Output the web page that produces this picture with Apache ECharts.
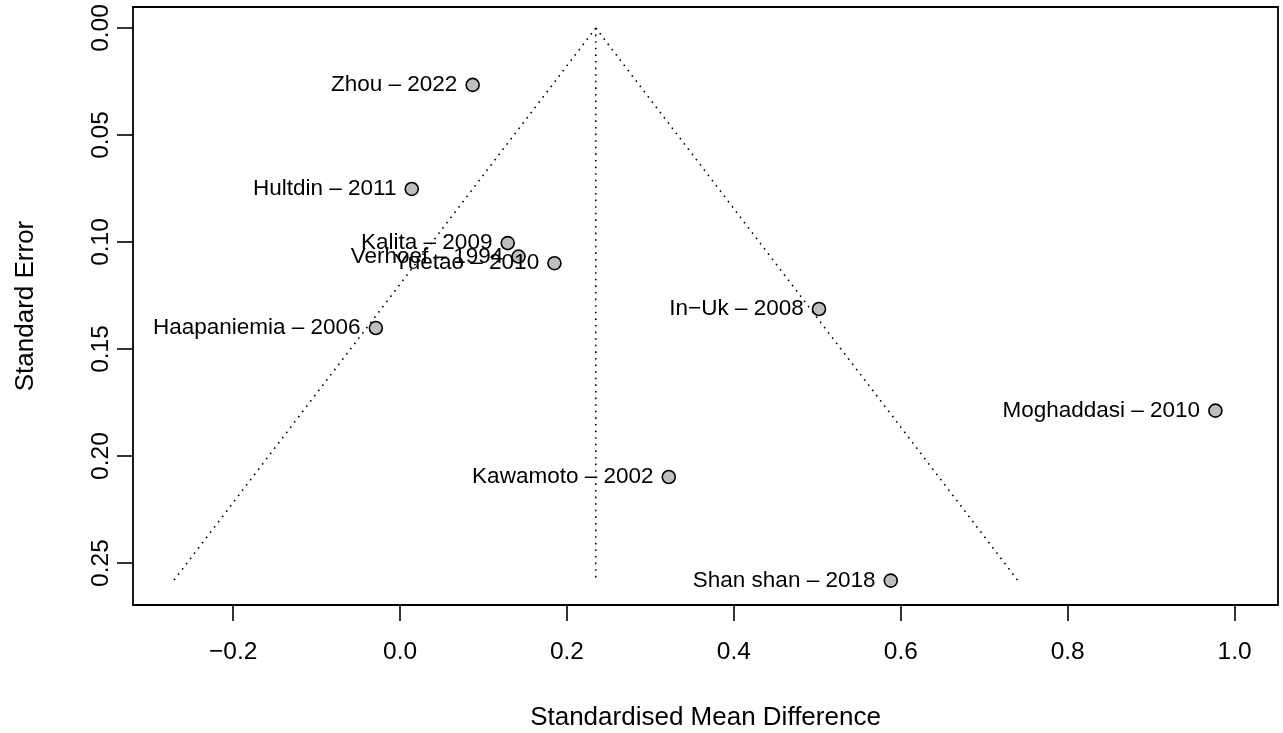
<!DOCTYPE html>
<html>
<head>
<meta charset="utf-8">
<title>Funnel plot</title>
<script src="https://cdn.jsdelivr.net/npm/echarts@6/dist/echarts.min.js"></script>
<style>
  html, body { margin: 0; padding: 0; background: #fff; }
  #chart { width: 1283px; height: 733px; }
</style>
</head>
<body>
<div id="chart"></div>
<script>
// studies (label, standardised mean difference, standard error)
var studyNames = ['Zhou \u2013 2022', 'Hultdin \u2013 2011', 'Kalita \u2013 2009', 'Verhoef \u2013 1994',
  'Yuetao \u2013 2010', 'In\u2212Uk \u2013 2008', 'Haapaniemia \u2013 2006', 'Moghaddasi \u2013 2010',
  'Kawamoto \u2013 2002', 'Shan shan \u2013 2018'];
var smdValues = [0.087, 0.014, 0.129, 0.142, 0.185, 0.502, -0.029, 0.977, 0.322, 0.588];
var seValues = [0.0266, 0.0752, 0.1005, 0.1068, 0.1099, 0.1313, 0.1402, 0.1788, 0.2098, 0.2582];

// funnel (pooled estimate and pseudo confidence limits)
var funnelLeft = [[0.2345, 0], [-0.272, 0.2585]];
var funnelRight = [[0.2345, 0], [0.741, 0.2585]];
var funnelMid = [[0.2345, 0], [0.2345, 0.2585]];

// tick labels
var xTicks = [-0.2, 0, 0.2, 0.4, 0.6, 0.8, 1.0];
var xTickLabels = ['\u22120.2', '0.0', '0.2', '0.4', '0.6', '0.8', '1.0'];
var yTicks = [0, 0.05, 0.1, 0.15, 0.2, 0.25];
var yTickLabels = ['0.00', '0.05', '0.10', '0.15', '0.20', '0.25'];

var chart = echarts.init(document.getElementById('chart'));

var pts = [];
for (var i = 0; i < smdValues.length; i++) {
  pts.push({ value: [smdValues[i], seValues[i]], name: studyNames[i] });
}

function dotted(d) {
  return {
    type: 'line', data: d, symbol: 'none', silent: true, z: 1,
    lineStyle: { color: '#000', width: 1.6, type: [1.6, 5] }
  };
}

var font = 'Liberation Sans, Arial, Helvetica, sans-serif';

var option = {
  animation: false,
  textStyle: { fontFamily: font },
  grid: {
    left: 133, right: 5, top: 7, bottom: 128,
    outerBoundsMode: 'none', containLabel: false,
    show: true, borderColor: '#000', borderWidth: 1.8, backgroundColor: 'transparent'
  },
  xAxis: {
    type: 'value', min: -0.32, max: 1.052,
    name: 'Standardised Mean Difference', nameLocation: 'middle', nameGap: 100,
    nameTextStyle: { fontSize: 26, color: '#000', fontFamily: font },
    axisLine: { show: false, onZero: false },
    splitLine: { show: false },
    axisTick: { show: true, inside: false, length: 16, customValues: xTicks,
      lineStyle: { color: '#000', width: 1.6 } },
    axisLabel: { show: true, margin: 35, fontSize: 24.5, color: '#000', fontFamily: font,
      customValues: xTicks,
      formatter: function (v) { return xTickLabels[xTicks.indexOf(+v.toFixed(2))]; } }
  },
  yAxis: {
    type: 'value', inverse: true, min: -0.0098, max: 0.2696,
    name: 'Standard Error', nameLocation: 'middle', nameGap: 94, nameRotate: 90,
    nameTextStyle: { fontSize: 26, color: '#000', fontFamily: font },
    axisLine: { show: false, onZero: false },
    splitLine: { show: false },
    axisTick: { show: true, inside: false, length: 16, customValues: yTicks,
      lineStyle: { color: '#000', width: 1.6 } },
    axisLabel: { show: true, margin: 19, rotate: 90, fontSize: 24.5, color: '#000', fontFamily: font,
      customValues: yTicks,
      formatter: function (v) { return yTickLabels[yTicks.indexOf(+v.toFixed(2))]; } }
  },
  series: [
    dotted(funnelLeft),
    dotted(funnelRight),
    dotted(funnelMid),
    {
      type: 'scatter', data: pts, symbol: 'circle', symbolSize: 13, z: 3,
      itemStyle: { color: '#bebebe', borderColor: '#000', borderWidth: 1.6, opacity: 1 },
      label: {
        show: true, position: 'left', distance: 8, fontSize: 22.5, color: '#000', fontFamily: font,
        formatter: function (p) { return p.name; }
      }
    }
  ]
};

chart.setOption(option);
</script>
</body>
</html>
